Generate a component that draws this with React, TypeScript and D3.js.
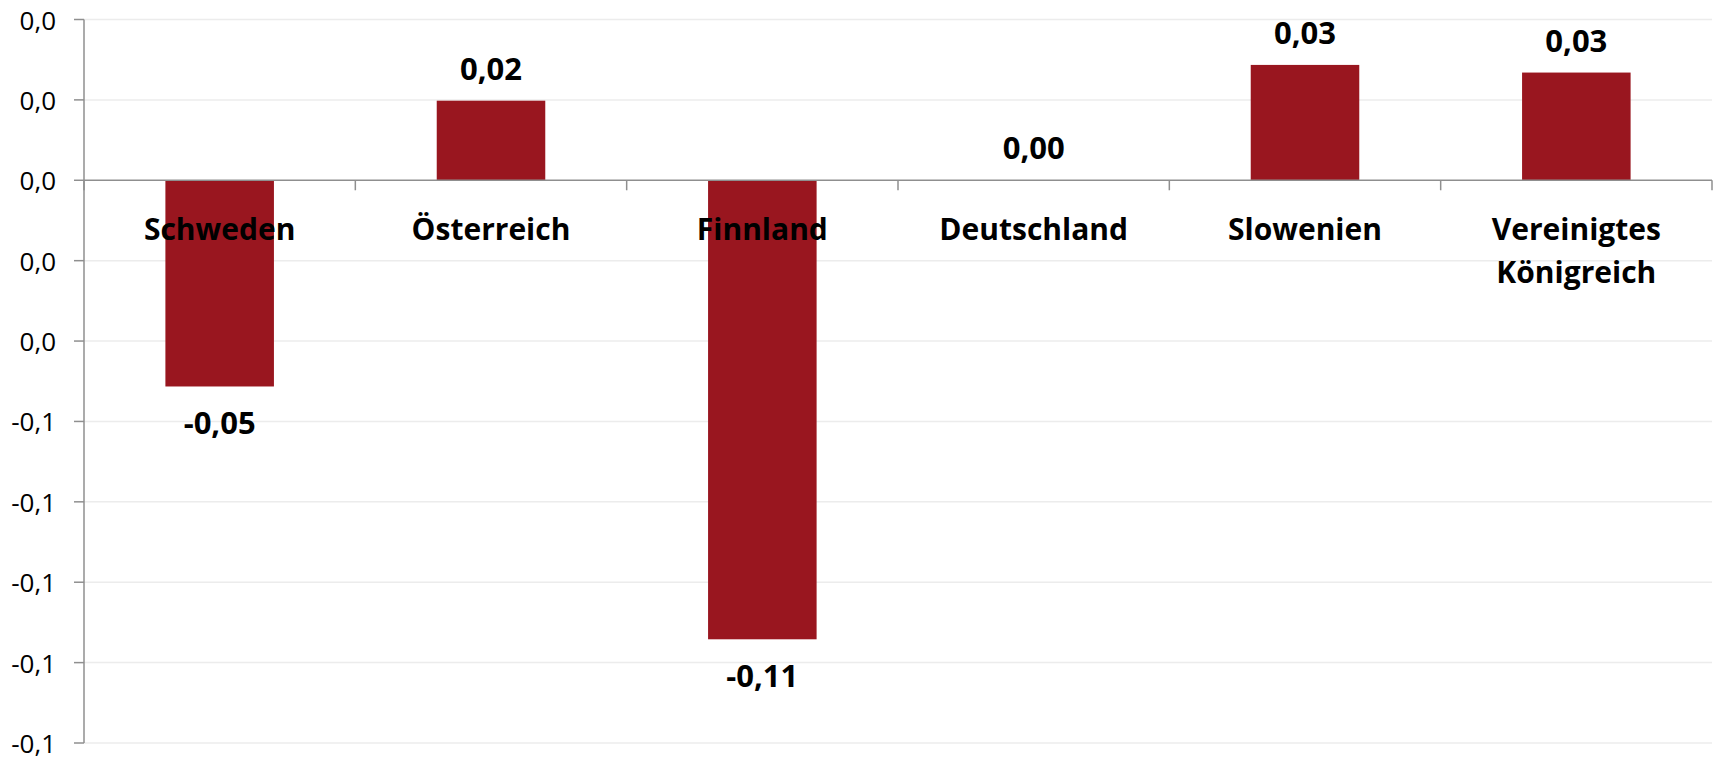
import React from "react";
import * as d3 from "d3";

const categories: string[][] = [
  ["Schweden"],
  ["Österreich"],
  ["Finnland"],
  ["Deutschland"],
  ["Slowenien"],
  ["Vereinigtes", "Königreich"],
];
const values: number[] = [-0.0513, 0.0198, -0.1142, 0.0, 0.0287, 0.0268];
const yTicks: number[] = [0.04, 0.02, 0, -0.02, -0.04, -0.06, -0.08, -0.1, -0.12, -0.14];
const yTickLabels: string[] = ["0,0", "0,0", "0,0", "0,0", "0,0", "-0,1", "-0,1", "-0,1", "-0,1", "-0,1"];

const W = 1714;
const H = 757;
const left = 84;
const right = 1712;
const top = 19.5;
const bottom = 743;
const BAR = "#99161F";
const AXIS = "#8f8f8f";
const GRID = "#ececec";
const FONT = "'Open Sans', 'Noto Sans', sans-serif";

const fmt = d3
  .formatLocale({ decimal: ",", thousands: ".", grouping: [3], currency: ["", "€"], minus: "-" })
  .format(".2f");

export default function App() {
  const x = d3
    .scaleBand<number>()
    .domain(d3.range(categories.length))
    .range([left, right])
    .paddingInner(0.6)
    .paddingOuter(0.3);
  const step = x.step();
  const y = d3.scaleLinear().domain([-0.14, 0.04]).range([bottom, top]);
  const y0 = y(0);

  return (
    <svg
      width={W}
      height={H}
      style={{ position: "absolute", left: 0, top: 0, background: "#fff" }}
    >
      {/* gridlines */}
      {yTicks.map((t, i) =>
        t === 0 ? null : (
          <line key={"g" + i} x1={left} x2={right} y1={y(t)} y2={y(t)} stroke={GRID} strokeWidth={1.5} />
        )
      )}
      {/* bars */}
      {values.map((v, i) => (
        <rect
          key={"b" + i}
          x={x(i)!}
          width={x.bandwidth()}
          y={Math.min(y(v), y0)}
          height={Math.abs(y(v) - y0)}
          fill={BAR}
        />
      ))}
      {/* y axis */}
      <line x1={left} x2={left} y1={top} y2={bottom} stroke={AXIS} strokeWidth={1.5} />
      {yTicks.map((t, i) => (
        <g key={"yt" + i}>
          <line x1={left - 10} x2={left} y1={y(t)} y2={y(t)} stroke={AXIS} strokeWidth={1.5} />
          <text
            x={56}
            y={y(t)}
            textAnchor="end"
            dominantBaseline="central"
            fontFamily={FONT}
            fontSize={26}
            fill="#000"
          >
            {yTickLabels[i]}
          </text>
        </g>
      ))}
      {/* x axis at zero */}
      <line x1={left} x2={right} y1={y0} y2={y0} stroke={AXIS} strokeWidth={1.5} />
      {d3.range(categories.length + 1).map((i) => (
        <line
          key={"xt" + i}
          x1={left + i * step}
          x2={left + i * step}
          y1={y0}
          y2={y0 + 10}
          stroke={AXIS}
          strokeWidth={1.5}
        />
      ))}
      {/* category labels */}
      {categories.map((lines, i) => (
        <text
          key={"c" + i}
          x={x(i)! + x.bandwidth() / 2}
          y={240}
          textAnchor="middle"
          fontFamily={FONT}
          fontWeight="bold"
          fontSize={30}
          fill="#000"
        >
          {lines.map((l, j) => (
            <tspan key={j} x={x(i)! + x.bandwidth() / 2} dy={j === 0 ? 0 : 43}>
              {l}
            </tspan>
          ))}
        </text>
      ))}
      {/* value labels */}
      {values.map((v, i) => (
        <text
          key={"v" + i}
          x={x(i)! + x.bandwidth() / 2}
          y={v >= 0 ? y(v) - 21 : y(v) + 48}
          textAnchor="middle"
          fontFamily={FONT}
          fontWeight="bold"
          fontSize={31}
          fill="#000"
        >
          {fmt(v)}
        </text>
      ))}
    </svg>
  );
}
